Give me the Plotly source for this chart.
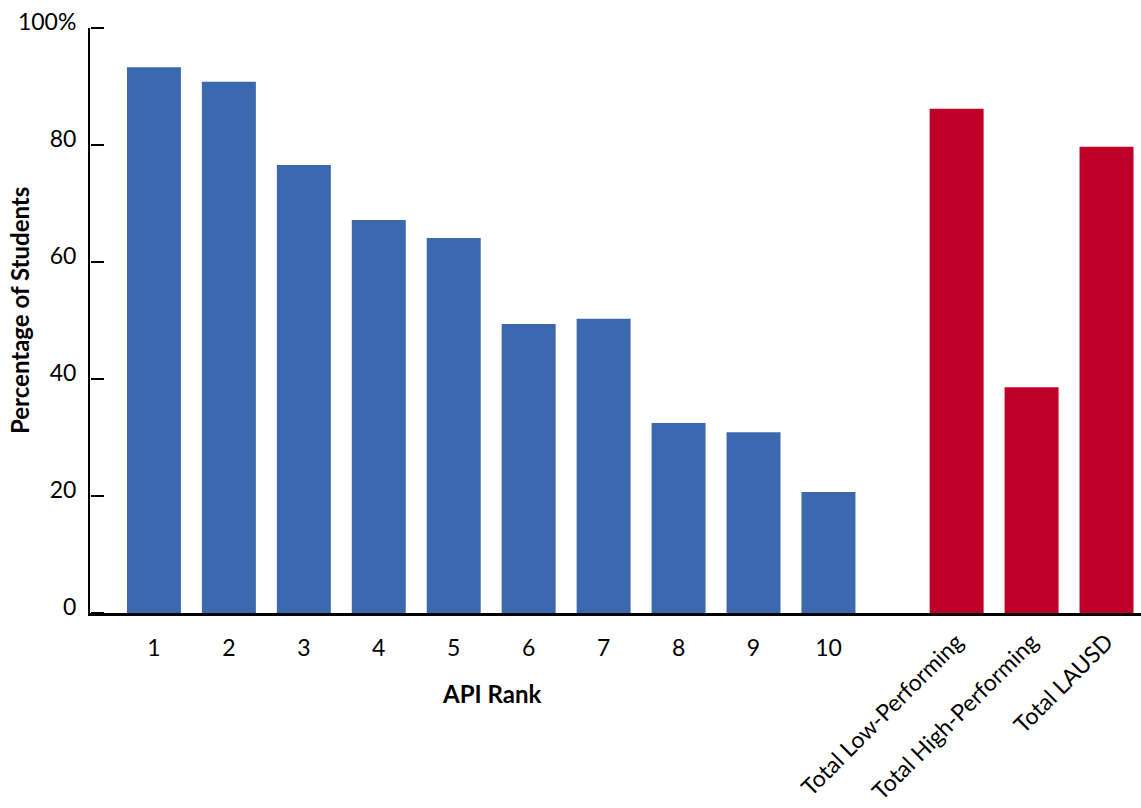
import plotly.graph_objects as go

# API rank groups and their shares
rank_labels = ["1", "2", "3", "4", "5", "6", "7", "8", "9", "10"]
rank_values = [93.3, 90.8, 76.6, 67.2, 64.1, 49.4, 50.3, 32.5, 30.9, 20.7]

total_labels = ["Total Low-Performing", "Total High-Performing", "Total LAUSD"]
total_values = [86.2, 38.6, 79.7]

y_ticks = [0, 20, 40, 60, 80, 100]
y_tick_text = ["0", "20", "40", "60", "80", "100%"]

BLUE = "#3B68AE"
RED = "#BE0028"
FONT = "Lato"

# bar slots: ranks sit on integer slots, totals follow after a wider gap
gap_after_ranks = 0.71
rank_pos = list(range(len(rank_labels)))
total_pos = [len(rank_labels) + gap_after_ranks + i for i in range(len(total_labels))]
x_range = [-0.853, total_pos[-1] + 0.46]
bar_w = 0.72

fig = go.Figure()
fig.add_trace(go.Bar(x=rank_pos, y=rank_values, width=bar_w,
                     marker=dict(color=BLUE, line=dict(width=0)), xaxis="x", yaxis="y"))
fig.add_trace(go.Bar(x=total_pos, y=total_values, width=bar_w,
                     marker=dict(color=RED, line=dict(width=0)), xaxis="x2", yaxis="y"))
# empty trace so the tick-mark axis (y2) gets its own subplot
fig.add_trace(go.Scatter(x=[None], y=[None], xaxis="x", yaxis="y2",
                         showlegend=False, hoverinfo="skip"))

fig.update_layout(
    width=1141, height=808,
    margin=dict(l=90, r=0, t=28, b=195),
    plot_bgcolor="white", paper_bgcolor="white",
    showlegend=False,
    font=dict(family=FONT, size=24, color="black"),
    xaxis=dict(
        range=x_range, tickmode="array", tickvals=rank_pos, ticktext=rank_labels,
        showgrid=False, zeroline=False, showline=True, linecolor="black", linewidth=3,
        ticks="", tickfont=dict(size=23), ticklabelstandoff=12, automargin=False,
    ),
    xaxis2=dict(
        range=x_range, overlaying="x", anchor="y", side="bottom",
        tickmode="array", tickvals=total_pos, ticktext=total_labels, tickangle=-45,
        showgrid=False, zeroline=False, showline=False,
        ticks="", tickfont=dict(size=23), ticklabelstandoff=10, automargin=False,
    ),
    yaxis=dict(
        range=[0, 100], tickmode="array", tickvals=y_ticks, ticktext=y_tick_text,
        showgrid=False, zeroline=False, showline=True, linecolor="black", linewidth=2,
        ticks="", tickfont=dict(size=23), ticklabelstandoff=7, ticklabelshift=-6,
        automargin=False,
    ),
    # right-facing tick marks along the left axis line
    yaxis2=dict(
        range=[0, 100], overlaying="y", anchor="free", position=0, side="right",
        tickmode="array", tickvals=y_ticks, ticks="outside", ticklen=13, tickwidth=2,
        tickcolor="black", showticklabels=False, showline=False, showgrid=False,
        zeroline=False, automargin=False,
    ),
    annotations=[
        dict(text="<b>API Rank</b>", x=(rank_pos[0] + rank_pos[-1]) / 2, xref="x",
             y=-(693 - 613) / (808 - 28 - 195), yref="paper", yanchor="middle",
             showarrow=False, font=dict(size=24)),
        dict(text="<b>Percentage of Students</b>", textangle=-90,
             x=-(90 - 20) / (1141 - 90), xref="paper", xanchor="center",
             y=(613 - 311) / (613 - 28), yref="paper", yanchor="middle",
             showarrow=False, font=dict(size=24)),
    ],
)

fig.write_html("out.html")
